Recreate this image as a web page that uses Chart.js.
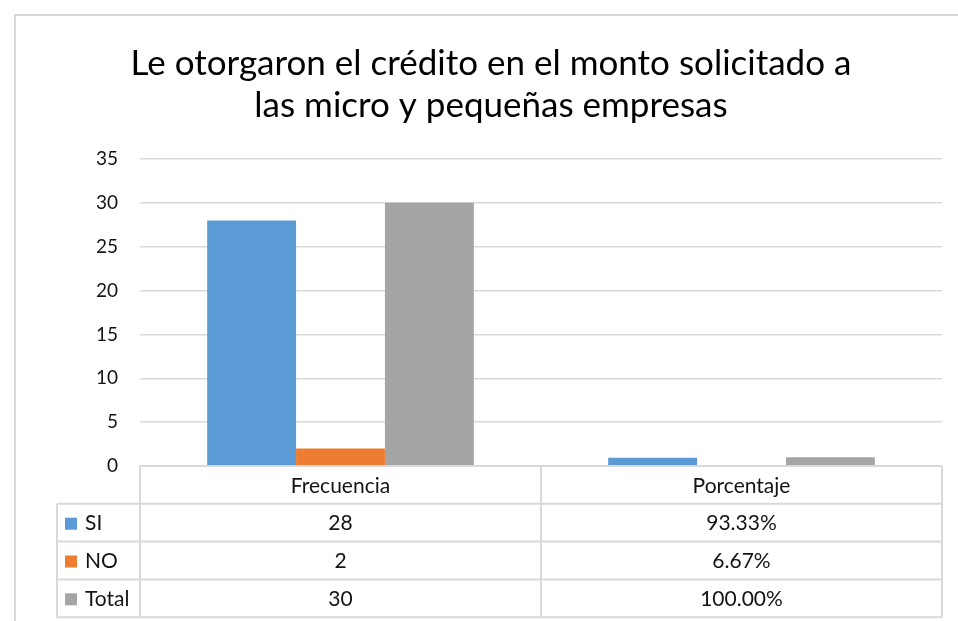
<!DOCTYPE html>
<html>
<head>
<meta charset="utf-8">
<script src="https://cdn.jsdelivr.net/npm/chart.js@4"></script>
<style>
  html, body { margin: 0; padding: 0; background: #fff; }
  #wrap { width: 958px; height: 621px; }
</style>
</head>
<body>
<div id="wrap"><canvas id="myChart" width="958" height="621"></canvas></div>
<script>
const categories = ["Frecuencia", "Porcentaje"];
const siValues = [28, 0.9333];
const noValues = [2, 0.0667];
const totalValues = [30, 1];
const seriesNames = ["SI", "NO", "Total"];
const seriesColors = ["#5B9BD5", "#ED7D31", "#A5A5A5"];
const yTicks = [0, 5, 10, 15, 20, 25, 30, 35];

const FONT = "Lato, 'Open Sans', sans-serif";
const lineColor = "#d9d9d9";
const textColor = "#141414";

// format cell text: first column counts, second one percent
function cellText(v, col) {
    return col === 0 ? String(v) : (v * 100).toFixed(2) + "%";
}

// Excel-like data table under the plot, drawn from the x scale
const dataTable = {
    id: "dataTable",
    beforeDraw(chart) {
        const c = chart.ctx;
        c.save();
        c.strokeStyle = lineColor;
        c.lineWidth = 2;
        c.beginPath();
        c.moveTo(14, 15); c.lineTo(958, 15);
        c.moveTo(15, 14); c.lineTo(15, 621);
        c.stroke();
        c.restore();
    },
    afterDraw(chart) {
        const c = chart.ctx;
        const x = chart.scales.x;
        const area = chart.chartArea;
        const rowH = 37.8;
        const top = area.bottom;
        const left = 57;
        const colEdges = [area.left];
        for (let i = 0; i < categories.length; i++) {
            const px = x.getPixelForValue(i);
            const half = (x.getPixelForValue(1) - x.getPixelForValue(0)) / 2;
            colEdges.push(px + half);
        }
        const rows = [siValues, noValues, totalValues];
        const bottom = top + rowH * (rows.length + 1);

        c.save();
        c.strokeStyle = lineColor;
        c.lineWidth = 2;
        c.beginPath();
        // header top line
        c.moveTo(area.left, top); c.lineTo(area.right, top);
        for (let r = 1; r <= rows.length + 1; r++) {
            const y = top + rowH * r;
            c.moveTo(left, y); c.lineTo(area.right, y);
        }
        colEdges.forEach(ex => { c.moveTo(ex, top); c.lineTo(ex, bottom); });
        c.moveTo(left, top + rowH); c.lineTo(left, bottom);
        c.stroke();

        c.font = "21px " + FONT;
        c.fillStyle = textColor;
        c.textBaseline = "middle";
        c.textAlign = "center";
        categories.forEach((cat, i) => {
            c.fillText(cat, x.getPixelForValue(i), top + rowH / 2 + 1);
        });
        rows.forEach((vals, r) => {
            const y = top + rowH * (r + 1.5) + 1;
            vals.forEach((v, i) => {
                c.fillStyle = textColor;
                c.textAlign = "center";
                c.fillText(cellText(v, i), x.getPixelForValue(i), y);
            });
            c.fillStyle = seriesColors[r];
            c.fillRect(65, y - 6, 12, 12);
            c.fillStyle = textColor;
            c.textAlign = "left";
            c.fillText(seriesNames[r], 85, y);
        });
        c.restore();
    }
};

const ctx = document.getElementById("myChart").getContext("2d");

const data = {
    labels: categories,
    datasets: [
        { label: seriesNames[0], data: siValues, backgroundColor: seriesColors[0] },
        { label: seriesNames[1], data: noValues, backgroundColor: seriesColors[1] },
        { label: seriesNames[2], data: totalValues, backgroundColor: seriesColors[2] },
    ],
};

const config = {
    type: "bar",
    data: data,
    options: {
        responsive: false,
        animation: false,
        categoryPercentage: 0.665,
        barPercentage: 1.0,
        layout: { padding: { top: 30, left: 40, right: 16, bottom: 147 } },
        plugins: {
            legend: { display: false },
            tooltip: { enabled: false },
            title: {
                display: true,
                text: ["Le otorgaron el crédito en el monto solicitado a", "las micro y pequeñas empresas"],
                color: "#000",
                font: { family: FONT, size: 35, weight: "normal", lineHeight: 1.2 },
                padding: { top: 13, bottom: 32 },
            },
        },
        scales: {
            x: {
                grid: { display: false },
                border: { display: false },
                ticks: { display: false },
            },
            y: {
                min: 0,
                max: 35,
                afterBuildTicks(scale) {
                    scale.ticks = yTicks.map(v => ({ value: v }));
                },
                afterFit(scale) { scale.width = 100; },
                grid: { color: lineColor, lineWidth: 1.5, drawTicks: false },
                border: { display: false },
                ticks: {
                    color: textColor,
                    padding: 22,
                    font: { family: FONT, size: 19 },
                },
            },
        },
    },
    plugins: [dataTable],
};

const myChart = new Chart(ctx, config);
</script>
</body>
</html>
